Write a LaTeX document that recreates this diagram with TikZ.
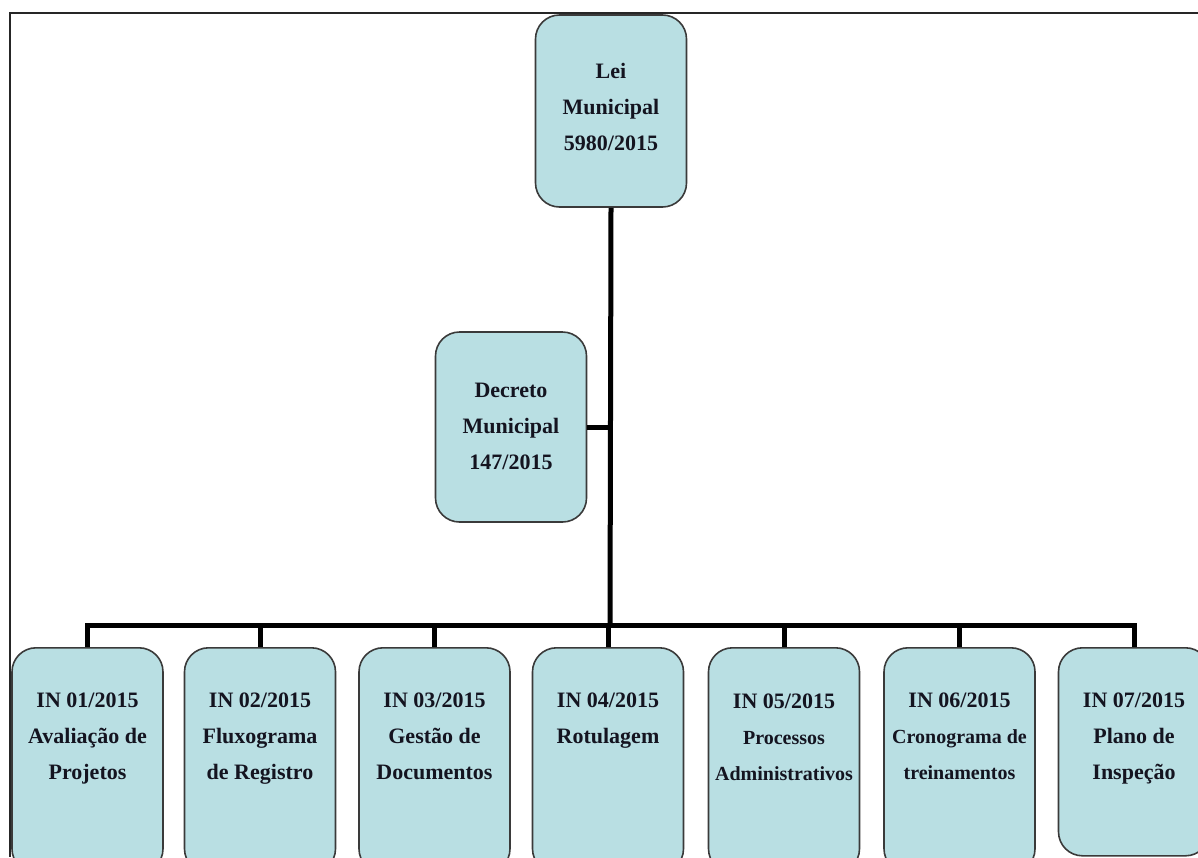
\documentclass[tikz,border=0pt]{standalone}
\usepackage{fontspec}
\setmainfont{Liberation Serif}
\definecolor{boxfill}{HTML}{B9DFE3}
\definecolor{boxline}{HTML}{3A3A3A}
\definecolor{txt}{HTML}{141420}
\newcommand{\smallline}[1]{{\fontsize{20}{36}\selectfont #1}}
\begin{document}
\begin{tikzpicture}[x=1pt,y=-1pt,
  box/.style={draw=boxline, line width=1.6pt, fill=boxfill, rounded corners=24pt,
    minimum width=151pt, inner sep=0pt},
  lbl/.style={inner sep=0pt, align=center, text=txt, font=\fontsize{22}{36}\selectfont\bfseries},
  conn/.style={line width=5pt, black},
  frame/.style={line width=2pt, black!85}]
\clip (0,0) rectangle (1198,857);
\draw[frame] (1198,13) -- (10,13) -- (10,857);
\node[box, minimum height=192pt] (top) at (611,111) {};
\node[box, minimum height=190pt] (dec) at (511,427) {};
\node[lbl] (tt) at (611,107) {Lei\\Municipal\\5980/2015};
\node[lbl] (td) at (511,426) {Decreto\\Municipal\\147/2015};
\node[box, minimum height=225pt, anchor=north] (b1) at (87.5,647) {};
\node[box, minimum height=225pt, anchor=north] (b2) at (260,647) {};
\node[box, minimum height=225pt, anchor=north] (b3) at (434.5,647) {};
\node[box, minimum height=225pt, anchor=north] (b4) at (608,647) {};
\node[box, minimum height=225pt, anchor=north] (b5) at (784,647) {};
\node[box, minimum height=225pt, anchor=north] (b6) at (959.5,647) {};
\node[box, minimum height=208pt, anchor=north] (b7) at (1134,647) {};
\node[lbl, anchor=north] (t1) at ([yshift=-46pt]b1.north) {IN 01/2015\\Avaliação de\\Projetos};
\node[lbl, anchor=north] (t2) at ([yshift=-46pt]b2.north) {IN 02/2015\\Fluxograma\\de Registro};
\node[lbl, anchor=north] (t3) at ([yshift=-46pt]b3.north) {IN 03/2015\\Gestão de\\Documentos};
\node[lbl, anchor=north] (t4) at ([yshift=-46pt]b4.north) {IN 04/2015\\Rotulagem};
\node[lbl, anchor=north] (t5) at ([yshift=-47pt]b5.north) {IN 05/2015\\\smallline{Processos}\\\smallline{Administrativos}};
\node[lbl, anchor=north] (t6) at ([yshift=-46pt]b6.north) {IN 06/2015\\\smallline{Cronograma de}\\\smallline{treinamentos}};
\node[lbl, anchor=north] (t7) at ([yshift=-46pt]b7.north) {IN 07/2015\\Plano de\\Inspeção};
\coordinate (bus) at (610,625);
\draw[conn] (top.south) -- (bus);
\draw[conn] (dec.east) -- (dec.east -| bus);
\foreach \i in {1,...,7} {\draw[conn] (bus) -| (b\i.north);}
\end{tikzpicture}
\end{document}
